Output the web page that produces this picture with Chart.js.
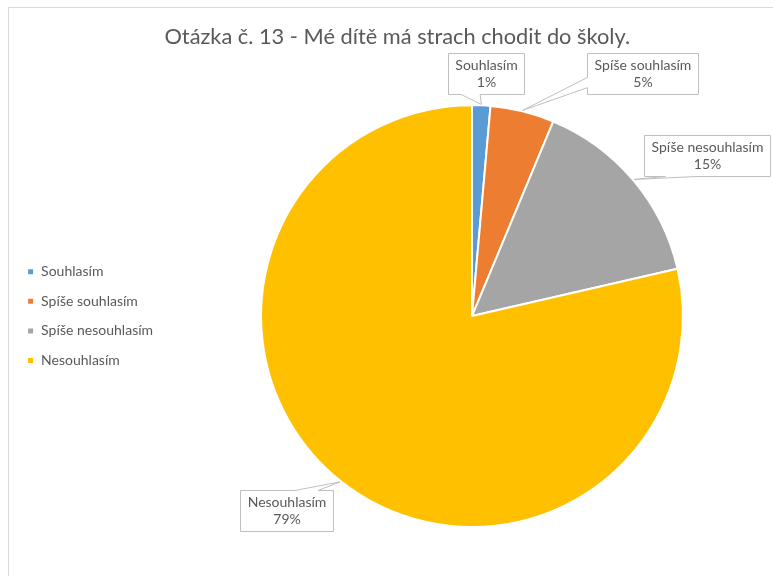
<!DOCTYPE html>
<html>
<head>
<meta charset="utf-8">
<script src="https://cdn.jsdelivr.net/npm/chart.js@4.4.0/dist/chart.umd.min.js"></script>
<style>
  html, body { margin: 0; padding: 0; background: #fff; overflow: hidden; }
  #frame {
    position: absolute; left: 8px; top: 7px;
    width: 774px; height: 592px;
    border: 1px solid #d9d9d9; background: #fff;
  }
</style>
</head>
<body>
<div id="frame"><canvas id="chart"></canvas></div>
<script>
const chartTitle = 'Otázka č. 13 - Mé dítě má strach chodit do školy.';
const categories = ['Souhlasím', 'Spíše souhlasím', 'Spíše nesouhlasím', 'Nesouhlasím'];
const shares = [1.4, 4.9, 15.1, 78.6]; // percent of answers
const colors = ['#5B9BD5', '#ED7D31', '#A5A5A5', '#FFC000'];

// where each callout box sits, relative to the point it points at
const calloutOffsets = [[5, -31], [120, -37], [73, -24], [-54, 29]];

// Excel-like callout boxes (rect with a wedge pointing at the slice)
const calloutPlugin = {
  id: 'callouts',
  afterDatasetsDraw(chart, args, opts) {
    const ctx = chart.ctx;
    const meta = chart.getDatasetMeta(0);
    const values = chart.data.datasets[0].data;
    const total = values.reduce((a, b) => a + b, 0);
    ctx.save();
    ctx.font = opts.font;
    meta.data.forEach((arc, i) => {
      const p = arc.getProps(['x', 'y', 'startAngle', 'endAngle', 'outerRadius'], true);
      const mid = (p.startAngle + p.endAngle) / 2;
      const tx = p.x + Math.cos(mid) * (p.outerRadius + 1);
      const ty = p.y + Math.sin(mid) * (p.outerRadius + 1);
      const lines = [chart.data.labels[i], Math.round(values[i] / total * 100) + '%'];
      const w = Math.round(Math.max(...lines.map(t => ctx.measureText(t).width)) + opts.padX * 2);
      const h = lines.length * opts.lineHeight + opts.padY * 2;
      const cx = tx + opts.offsets[i][0];
      const cy = ty + opts.offsets[i][1];
      const x0 = Math.round(cx - w / 2) + 0.5, y0 = Math.round(cy - h / 2) + 0.5;
      const x1 = x0 + w, y1 = y0 + h;

      // wedge placement, same idea as wedgeRectCallout
      const dx = tx - cx, dy = ty - cy;
      const dz = Math.abs(dy) - Math.abs(dx * h / w);
      const bx1 = x0 + w * (dx > 0 ? 7 : 2) / 12, bx2 = x0 + w * (dx > 0 ? 10 : 5) / 12;
      const by1 = y0 + h * (dy > 0 ? 7 : 2) / 12, by2 = y0 + h * (dy > 0 ? 10 : 5) / 12;

      ctx.beginPath();
      ctx.moveTo(x0, y0);
      if (dz > 0 && dy < 0) { ctx.lineTo(bx1, y0); ctx.lineTo(tx, ty); ctx.lineTo(bx2, y0); }
      ctx.lineTo(x1, y0);
      if (dz <= 0 && dx > 0) { ctx.lineTo(x1, by1); ctx.lineTo(tx, ty); ctx.lineTo(x1, by2); }
      ctx.lineTo(x1, y1);
      if (dz > 0 && dy > 0) { ctx.lineTo(bx2, y1); ctx.lineTo(tx, ty); ctx.lineTo(bx1, y1); }
      ctx.lineTo(x0, y1);
      if (dz <= 0 && dx < 0) { ctx.lineTo(x0, by2); ctx.lineTo(tx, ty); ctx.lineTo(x0, by1); }
      ctx.closePath();
      ctx.fillStyle = '#ffffff';
      ctx.fill();
      ctx.strokeStyle = opts.borderColor;
      ctx.lineWidth = 1;
      ctx.stroke();

      ctx.fillStyle = opts.color;
      ctx.textAlign = 'center';
      ctx.textBaseline = 'middle';
      lines.forEach((t, k) => {
        ctx.fillText(t, (x0 + x1) / 2, y0 + opts.padY + opts.lineHeight * (k + 0.5));
      });
    });
    ctx.restore();
  }
};

new Chart(document.getElementById('chart'), {
  type: 'pie',
  data: {
    labels: categories,
    datasets: [{
      data: shares,
      backgroundColor: colors,
      borderColor: '#ffffff',
      borderWidth: 2
    }]
  },
  options: {
    responsive: true,
    maintainAspectRatio: false,
    animation: false,
    layout: { padding: { left: 2.5, right: 0, top: 0, bottom: 72 } },
    plugins: {
      title: {
        display: true,
        text: chartTitle,
        color: '#595959',
        font: { family: 'Lato', size: 21.8, weight: 'normal' },
        padding: { top: 16, bottom: 54 }
      },
      legend: {
        position: 'left',
        fullSize: false,
        maxWidth: 149.5,
        labels: {
          boxWidth: 7,
          boxHeight: 7,
          padding: 15.6,
          color: '#595959',
          font: { family: 'Lato', size: 14 }
        }
      },
      tooltip: { enabled: false },
      callouts: {
        offsets: calloutOffsets,
        font: '14px Lato',
        color: '#595959',
        borderColor: '#bfbfbf',
        padX: 7,
        padY: 3.5,
        lineHeight: 17
      }
    }
  },
  plugins: [calloutPlugin]
});
</script>
</body>
</html>
